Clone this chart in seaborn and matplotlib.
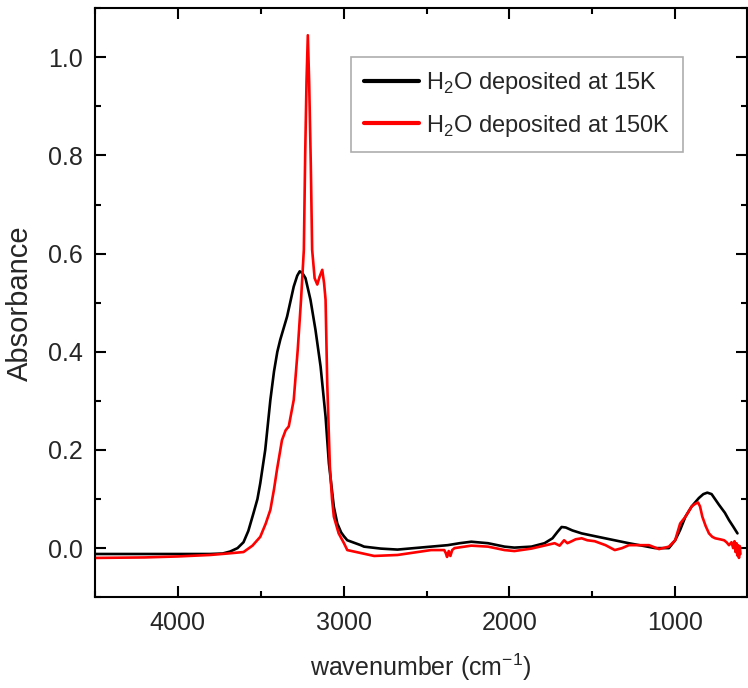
import matplotlib
matplotlib.use("Agg")
import matplotlib.pyplot as plt
import pandas as pd
import seaborn as sb
from matplotlib.ticker import MultipleLocator, FormatStrFormatter

# H2O deposited at 15K
wn_15k = [4500, 4200, 4000, 3806, 3730, 3685, 3640, 3604, 3575, 3544, 3520, 3503,
          3473, 3442, 3420, 3400, 3382, 3341, 3301, 3280, 3265, 3248, 3230, 3200, 3170,
          3139, 3109, 3089, 3059, 3038, 3015, 2998, 2978, 2897, 2877, 2776, 2675, 2473,
          2372, 2300, 2230, 2129, 2029, 1970, 1867, 1788, 1740, 1710, 1685, 1660,
          1620, 1564, 1480, 1380, 1280, 1200, 1121, 1038, 1000, 970, 938, 900, 857,
          830, 806, 780, 735, 700, 675, 650, 624]
abs_15k = [-0.012, -0.012, -0.012, -0.012, -0.011, -0.007, 0.0, 0.012, 0.035, 0.071,
           0.1, 0.132, 0.2, 0.302, 0.36, 0.4, 0.425, 0.472, 0.533, 0.555, 0.564, 0.56,
           0.55, 0.506, 0.445, 0.37, 0.268, 0.173, 0.084, 0.05, 0.032, 0.024, 0.016,
           0.006, 0.003, -0.001, -0.003, 0.003, 0.006, 0.01, 0.013, 0.01, 0.003,
           0.001, 0.003, 0.01, 0.02, 0.033, 0.043, 0.042, 0.036, 0.03, 0.024,
           0.017, 0.01, 0.005, 0.0, 0.0, 0.016, 0.037, 0.064, 0.085, 0.102, 0.11,
           0.113, 0.11, 0.088, 0.072, 0.057, 0.044, 0.03]

# H2O deposited at 150K
wn_150k = [4500, 4200, 4000, 3806, 3700, 3604, 3550, 3503, 3470, 3442, 3420, 3402,
           3372, 3350, 3331, 3301, 3277, 3257, 3240, 3232, 3224, 3216, 3208, 3198,
           3190, 3175, 3159, 3145, 3129, 3118, 3109, 3099, 3083, 3070, 3059, 3030,
           2998, 2978, 2897, 2816, 2675, 2473, 2393, 2384, 2376, 2366, 2356, 2345,
           2331, 2230, 2129, 2029, 1970, 1867, 1727, 1697, 1670, 1650, 1624, 1600,
           1564, 1530, 1485, 1420, 1364, 1320, 1279, 1220, 1158, 1097, 1038, 1000,
           970, 938, 900, 880, 862, 850, 836, 816, 796, 776, 758, 730, 705, 690,
           675, 660, 650, 642, 636, 630, 625, 620, 615, 610, 606]
abs_150k = [-0.02, -0.019, -0.017, -0.014, -0.011, -0.008, 0.005, 0.023, 0.05, 0.078,
            0.12, 0.16, 0.22, 0.24, 0.248, 0.302, 0.404, 0.506, 0.608, 0.8, 0.95,
            1.045, 0.95, 0.78, 0.608, 0.55, 0.537, 0.553, 0.567, 0.54, 0.506, 0.336,
            0.166, 0.1, 0.064, 0.03, 0.01, -0.004, -0.01, -0.016, -0.014, -0.004,
            -0.004, -0.01, -0.018, -0.006, -0.016, -0.004, 0.0, 0.005, 0.003,
            -0.004, -0.006, -0.001, 0.01, 0.005, 0.016, 0.01, 0.014, 0.018, 0.02,
            0.016, 0.014, 0.006, -0.004, 0.0, 0.006, 0.006, 0.006, -0.002, 0.003,
            0.016, 0.05, 0.064, 0.085, 0.09, 0.093, 0.085, 0.064, 0.045, 0.03,
            0.023, 0.02, 0.018, 0.016, 0.012, 0.006, 0.012, 0.0, 0.014, -0.008,
            0.01, -0.015, 0.006, -0.02, 0.004, -0.012]

df15 = pd.DataFrame({"wn": wn_15k, "a": abs_15k})
df150 = pd.DataFrame({"wn": wn_150k, "a": abs_150k})

sb.set_style("ticks")
plt.rcParams["font.family"] = ["Liberation Sans Narrow", "Liberation Sans", "DejaVu Sans"]
plt.rcParams["mathtext.fontset"] = "custom"
plt.rcParams["mathtext.rm"] = "Liberation Sans"

fig = plt.figure(figsize=(7.48, 6.88), dpi=100)
ax = fig.add_axes([0.127, 0.132, 0.872, 0.856])

sb.lineplot(data=df15, x="wn", y="a", color="black", lw=1.9, sort=False, ax=ax,
            label=r"H$_2$O deposited at 15K")
sb.lineplot(data=df150, x="wn", y="a", color="red", lw=1.9, sort=False, ax=ax,
            label=r"H$_2$O deposited at 150K")

ax.set_xlim(4500, 565)
ax.set_ylim(-0.1, 1.1)
ax.xaxis.set_major_locator(MultipleLocator(1000))
ax.xaxis.set_minor_locator(MultipleLocator(500))
ax.yaxis.set_major_locator(MultipleLocator(0.2))
ax.yaxis.set_minor_locator(MultipleLocator(0.1))
ax.yaxis.set_major_formatter(FormatStrFormatter("%.1f"))
ax.tick_params(which="both", direction="in", top=True, right=True, labelsize=18,
               width=1.5, color="black")
ax.tick_params(which="major", length=8)
ax.tick_params(which="minor", length=4)
ax.tick_params(axis="x", pad=10)
ax.tick_params(axis="y", pad=9)
for s in ax.spines.values():
    s.set_linewidth(1.5)
    s.set_color("black")

ax.set_xlabel("wavenumber (cm$^{-1}$)", fontsize=18, labelpad=12)
ax.set_ylabel("Absorbance", fontsize=21, labelpad=10)

leg = ax.legend(loc="upper left", bbox_to_anchor=(0.393, 0.917), fontsize=17,
                frameon=True, fancybox=False, edgecolor="#999999",
                handlelength=2.3, handletextpad=0.3, borderpad=0.55,
                labelspacing=0.7, borderaxespad=0)
leg.get_frame().set_linewidth(1.2)
for h in leg.get_lines():
    h.set_linewidth(3)

fig.savefig("out.png", dpi=100)
